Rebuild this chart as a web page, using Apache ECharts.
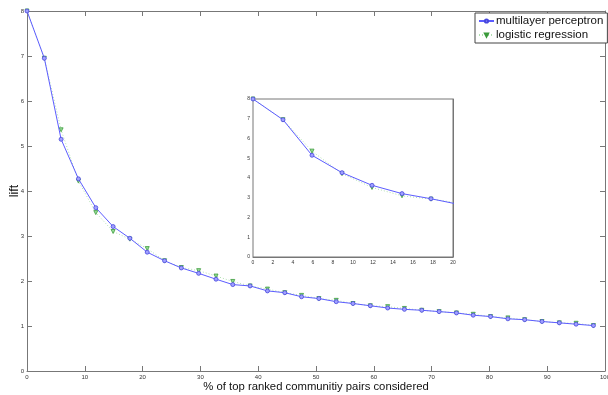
<!DOCTYPE html>
<html><head><meta charset="utf-8">
<script src="https://cdn.jsdelivr.net/npm/echarts@6/dist/echarts.min.js"></script>
<style>html,body{margin:0;padding:0;background:#fff}#c{width:608px;height:395px}</style>
</head><body><div id="c"></div>
<script>
var xValues = [0, 3.0, 5.9, 8.9, 11.9, 14.9, 17.8, 20.8, 23.8, 26.7, 29.7, 32.7, 35.6, 38.6, 41.6, 44.6, 47.5, 50.5, 53.5, 56.4, 59.4, 62.4, 65.3, 68.3, 71.3, 74.3, 77.2, 80.2, 83.2, 86.1, 89.1, 92.1, 95.0, 98.0];
var mlpValues = [8.0, 6.95, 5.15, 4.27, 3.63, 3.21, 2.95, 2.64, 2.45, 2.29, 2.17, 2.04, 1.92, 1.89, 1.78, 1.74, 1.65, 1.61, 1.54, 1.50, 1.45, 1.40, 1.37, 1.35, 1.32, 1.29, 1.24, 1.21, 1.16, 1.14, 1.10, 1.07, 1.04, 1.01];
var lrValues = [8.0, 6.95, 5.36, 4.22, 3.52, 3.10, 2.93, 2.72, 2.45, 2.30, 2.23, 2.11, 1.99, 1.89, 1.82, 1.74, 1.68, 1.61, 1.57, 1.50, 1.45, 1.43, 1.39, 1.35, 1.32, 1.29, 1.26, 1.21, 1.18, 1.14, 1.10, 1.07, 1.06, 1.01];
var seriesNames = ['multilayer perceptron', 'logistic regression'];
var xLabel = '% of top ranked communitiy pairs considered';
var yLabel = 'lift';

function pairs(ys){ return xValues.map(function(x,i){ return [x, ys[i]]; }); }

var axisCol = '#777';
function mkAxis(idx, pos, min, max, itv, showLabel, tickLen, fs, name, gap, nfs){
  return {type:'value', gridIndex: idx, position: pos, min:min, max:max, interval:itv,
    name: name || '', nameLocation:'middle', nameGap: gap || 14, nameMoveOverlap:false,
    nameTextStyle:{fontFamily:'Liberation Sans', fontSize:nfs || 12, color:'#111'},
    axisLine:{show:true, onZero:false, lineStyle:{color:axisCol, width:1}},
    axisTick:{show:true, inside:true, length:tickLen, lineStyle:{color:axisCol}},
    axisLabel:{show:showLabel, fontSize:fs, color:'#333', margin:3, fontFamily:'Liberation Sans'},
    splitLine:{show:false}};
}

var blue = '#5c5cff';
function mlpSeries(xi, yi, sz){
  return {name: seriesNames[0], type:'line', xAxisIndex:xi, yAxisIndex:yi, data: pairs(mlpValues),
    symbol:'circle', symbolSize:sz, showSymbol:true, clip:true, z:3,
    lineStyle:{color:blue, width:1}, itemStyle:{color:'#a0a0ff', borderColor:'#4848dd', borderWidth:0.8}};
}
function lrSeries(xi, yi, sz){
  return {name: seriesNames[1], type:'line', xAxisIndex:xi, yAxisIndex:yi, data: pairs(lrValues),
    symbol:'triangle', symbolRotate:180, symbolSize:sz, showSymbol:true, clip:true, z:2,
    lineStyle:{color:'#b0e0b0', width:1, type:[1,2]}, itemStyle:{color:'#99dd99', borderColor:'#3a9a3a', borderWidth:0.8}};
}

var chart = echarts.init(document.getElementById('c'));
chart.setOption({
  animation:false,
  backgroundColor:'#fff',
  grid:[
    {left:27, top:11, width:578, height:360, show:false, outerBoundsMode:'none', containLabel:false},
    {left:253, top:99, width:200, height:158, show:true, backgroundColor:'#fff', borderColor:axisCol, borderWidth:1, z:5, outerBoundsMode:'none', containLabel:false}
  ],
  legend:{
    data: seriesNames, orient:'vertical', left:475, top:13, itemGap:2, itemWidth:15, itemHeight:4,
    padding:[2,4,2,3], borderColor:'#444', borderWidth:1, backgroundColor:'#fff',
    textStyle:{fontFamily:'Liberation Sans', fontSize:11.5, color:'#111', padding:[0,0,0,-3]}
  },
  xAxis:[
    mkAxis(0,'bottom',0,100,10,true,5,6,xLabel,10.5,11.3),
    mkAxis(0,'top',0,100,10,false,5,6),
    mkAxis(1,'bottom',0,20,2,true,2.5,5),
    mkAxis(1,'top',0,20,2,false,2.5,5)
  ],
  yAxis:[
    mkAxis(0,'left',0,8,1,true,5,6,yLabel,6,12.5),
    mkAxis(0,'right',0,8,1,false,5,6),
    mkAxis(1,'left',0,8,1,true,2.5,5),
    mkAxis(1,'right',0,8,1,false,2.5,5)
  ],
  series:[
    mlpSeries(0,0,4), lrSeries(0,0,4),
    Object.assign(mlpSeries(2,2,4), {z:7}),
    Object.assign(lrSeries(2,2,4), {z:6})
  ]
});
</script></body></html>
